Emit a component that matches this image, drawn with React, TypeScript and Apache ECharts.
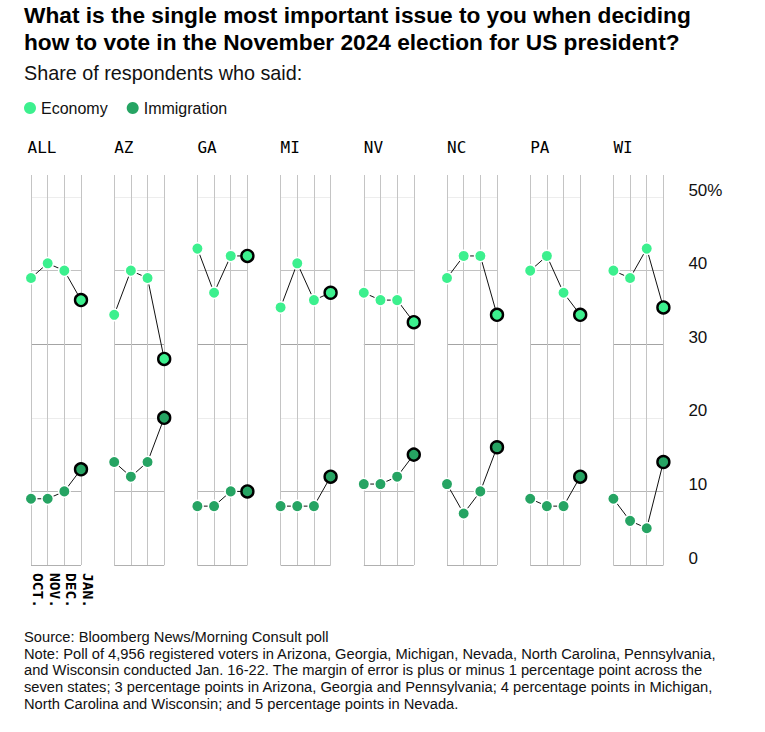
import { useEffect, useRef } from "react";
import * as echarts from "echarts";

const months = ["OCT.", "NOV.", "DEC.", "JAN."];
const regions = ["ALL", "AZ", "GA", "MI", "NV", "NC", "PA", "WI"];

// share of respondents, % (Oct, Nov, Dec, Jan)
const economy = [
  [39, 41, 40, 36],
  [34, 40, 39, 28],
  [43, 37, 42, 42],
  [35, 41, 36, 37],
  [37, 36, 36, 33],
  [39, 42, 42, 34],
  [40, 42, 37, 34],
  [40, 39, 43, 35],
];
const immigration = [
  [9, 9, 10, 13],
  [14, 12, 14, 20],
  [8, 8, 10, 10],
  [8, 8, 8, 12],
  [11, 11, 12, 15],
  [11, 7, 10, 16],
  [9, 8, 8, 12],
  [9, 6, 5, 14],
];

const titleLines = [
  "What is the single most important issue to you when deciding",
  "how to vote in the November 2024 election for US president?",
];
const subtitle = "Share of respondents who said:";
const footerLines = [
  "Source: Bloomberg News/Morning Consult poll",
  "Note: Poll of 4,956 registered voters in Arizona, Georgia, Michigan, Nevada, North Carolina, Pennsylvania,",
  "and Wisconsin conducted Jan. 16-22. The margin of error is plus or minus 1 percentage point across the",
  "seven states; 3 percentage points in Arizona, Georgia and Pennsylvania; 4 percentage points in Michigan,",
  "North Carolina and Wisconsin; and 5 percentage points in Nevada.",
];

const ECON = "#3cf08e";
const IMMI = "#26a463";
const SANS = "'Liberation Sans', Arial, sans-serif";
const MONO = "'DejaVu Sans Mono', monospace";

const PANEL_LEFT = 31;
const PANEL_STEP = 83.2;
const PANEL_W = 50;
const PANEL_TOP = 175;
const PANEL_H = 390;

const toSeriesData = (vals: number[]) =>
  vals.map((v, i) =>
    i === vals.length - 1
      ? { value: v, symbolSize: 12, itemStyle: { borderColor: "#000", borderWidth: 2.4 } }
      : v,
  );

const App = () => {
  const ref = useRef<HTMLDivElement | null>(null);

  useEffect(() => {
    if (!ref.current) return;
    const chart = echarts.init(ref.current, null, { renderer: "svg" });

    const grids = regions.map((_, i) => ({
      left: PANEL_LEFT + i * PANEL_STEP,
      top: PANEL_TOP,
      width: PANEL_W,
      height: PANEL_H,
    }));

    const xAxes = regions.map((_, i) => ({
      type: "category",
      gridIndex: i,
      data: months,
      boundaryGap: false,
      axisLine: { show: false },
      axisTick: { show: false },
      splitLine: { show: true, interval: 0, lineStyle: { color: "#c4c4c4", width: 1 } },
      axisLabel: {
        show: i === 0,
        interval: 0,
        rotate: -90,
        margin: 8,
        verticalAlign: "bottom",
        lineHeight: 14,
        fontFamily: MONO,
        fontWeight: "bold",
        fontSize: 14.5,
        color: "#000",
      },
    }));

    const yAxes = regions.map((_, i) => ({
      type: "value",
      gridIndex: i,
      min: 0,
      max: 53,
      interval: 10,
      position: "right",
      axisLine: { show: false },
      axisTick: { show: false },
      splitLine: {
        show: true,
        lineStyle: {
          color: ["#b0b0b0", "#b8b8b8", "#ececec", "#a4a4a4", "#c2c2c2", "#ededed", "transparent"],
          width: 1,
        },
      },
      axisLabel: {
        show: i === regions.length - 1,
        margin: 25,
        align: "left",
        verticalAlign: "bottom",
        lineHeight: 14,
        fontFamily: SANS,
        fontSize: 17,
        color: "#111",
        formatter: (v: number) => (v % 10 !== 0 ? "" : v === 50 ? "50%" : String(v)),
      },
    }));

    const mkSeries = (name: string, color: string, rows: number[][]) =>
      rows.map((vals, i) => ({
        name,
        type: "line",
        xAxisIndex: i,
        yAxisIndex: i,
        data: toSeriesData(vals),
        symbol: "circle",
        symbolSize: 11.5,
        showSymbol: true,
        showAllSymbol: true,
        lineStyle: { color: "#111", width: 1 },
        itemStyle: { color, borderColor: "#fff", borderWidth: 1.5 },
        emphasis: { disabled: true },
        z: 3,
      }));

    const texts: any[] = [
      {
        type: "text",
        left: 24,
        top: 1.5,
        style: {
          text: titleLines.join("\n"),
          fontFamily: SANS,
          fontWeight: "bold",
          fontSize: 22.7,
          lineHeight: 27,
          fill: "#000",
        },
      },
      {
        type: "text",
        x: 24,
        y: 72.5,
        style: {
          text: subtitle,
          fontFamily: SANS,
          fontSize: 19.8,
          fill: "#111",
          verticalAlign: "middle",
        },
      },
      ...regions.map((r, i) => ({
        type: "text",
        x: i === 0 ? 27.5 : PANEL_LEFT + i * PANEL_STEP,
        y: 147.5,
        style: {
          text: r,
          fontFamily: MONO,
          fontSize: 16,
          fill: "#000",
          verticalAlign: "middle",
        },
      })),
      {
        type: "text",
        left: 24,
        top: 628.6,
        style: {
          text: footerLines.join("\n"),
          fontFamily: SANS,
          fontSize: 14.7,
          lineHeight: 16.75,
          fill: "#111",
        },
      },
    ];

    chart.setOption({
      animation: false,
      backgroundColor: "#fff",
      legend: {
        data: ["Economy", "Immigration"],
        left: 24,
        top: 100,
        padding: 0,
        icon: "circle",
        itemWidth: 12,
        itemHeight: 12,
        itemGap: 19,
        itemStyle: { borderWidth: 0 },
        textStyle: { fontFamily: SANS, fontSize: 16, color: "#111" },
      },
      grid: grids,
      xAxis: xAxes,
      yAxis: yAxes,
      series: [...mkSeries("Economy", ECON, economy), ...mkSeries("Immigration", IMMI, immigration)],
      graphic: texts,
    });

    return () => {
      chart.dispose();
    };
  }, []);

  return (
    <div
      ref={ref}
      style={{ position: "absolute", left: 0, top: 0, width: 765, height: 732 }}
    />
  );
};

export default App;
